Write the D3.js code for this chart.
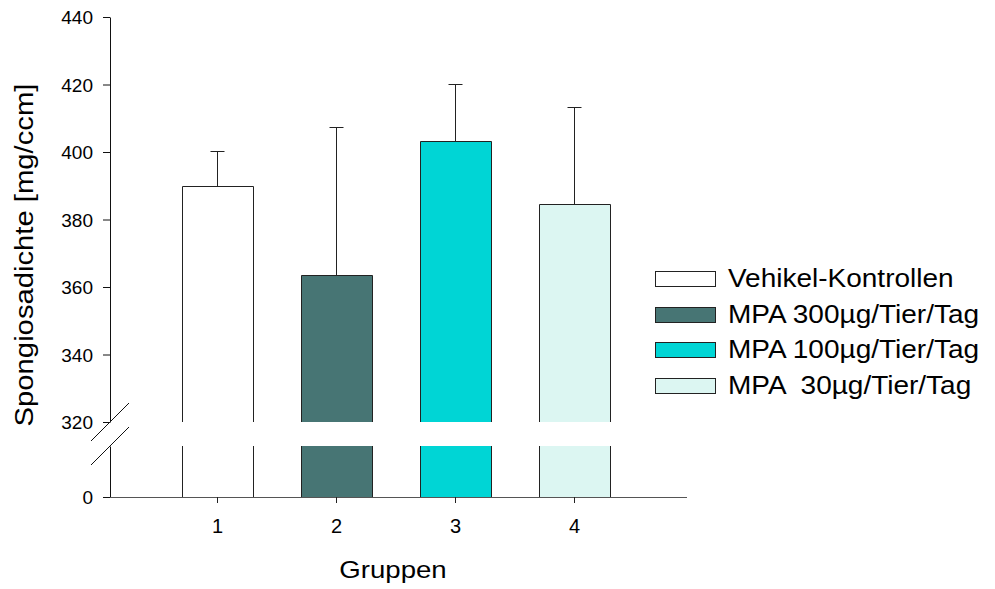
<!DOCTYPE html>
<html>
<head>
<meta charset="utf-8">
<script src="https://cdn.jsdelivr.net/npm/d3@7"></script>
<style>
  body { margin: 0; background: #fff; }
  text { font-family: Arial, "Liberation Sans", sans-serif; fill: #000; white-space: pre; }
</style>
</head>
<body>
<div id="chart"></div>
<script>
// values
const groups = [1, 2, 3, 4];
const groupNames = ["Vehikel-Kontrollen", "MPA 300µg/Tier/Tag", "MPA 100µg/Tier/Tag", "MPA  30µg/Tier/Tag"];
const means = [389.8, 363.6, 403.4, 384.6];
const errTop = [400.4, 407.3, 420.0, 413.4];
const colors = ["#ffffff", "#477574", "#00d5d5", "#dcf6f2"];
const upperTicks = [320, 340, 360, 380, 400, 420, 440];
const lowerTicks = [0];

var width = 995, height = 589;
var plotLeft = 110, plotRight = 687;
var barW = 71;

var svg = d3.select("#chart").append("svg")
    .attr("width", width)
    .attr("height", height);

// broken y axis: upper part 320..440, lower part from 0
var yUp = d3.scaleLinear().domain([320, 440]).range([422, 17]);
var yLow = d3.scaleLinear().domain([0, 300]).range([497, 446]).clamp(true);
var x = d3.scaleLinear().domain([1, 4]).range([217, 574]);

var data = groups.map((g, i) => ({ g: g, mean: means[i], top: errTop[i], color: colors[i], name: groupNames[i] }));

function px(v) { return Math.round(v) + 0.5; }

// bars, upper segment
var bars = svg.append("g");
data.forEach(function (d) {
    var x0 = px(x(d.g) - barW / 2), x1 = px(x(d.g) + barW / 2);
    var yt = px(yUp(d.mean)), yb = yUp(320);
    var lb = yLow(0), lt = yLow(300);
    bars.append("rect").attr("x", x0).attr("y", yt).attr("width", x1 - x0).attr("height", yb - yt)
        .attr("fill", d.color);
    bars.append("rect").attr("x", x0).attr("y", lt).attr("width", x1 - x0).attr("height", lb - lt)
        .attr("fill", d.color);
    bars.append("path")
        .attr("d", `M${x0},${yb}V${yt}H${x1}V${yb}M${x0},${lt}V${lb}M${x1},${lt}V${lb}`)
        .attr("fill", "none").attr("stroke", "#222").attr("stroke-width", 1);
    // error bar
    var xc = px(x(d.g));
    var ye = px(yUp(d.top));
    bars.append("path")
        .attr("d", `M${xc},${yt}V${ye}M${xc - 7},${ye}H${xc + 7}`)
        .attr("fill", "none").attr("stroke", "#222").attr("stroke-width", 1);
});

// y axis upper
var axUp = svg.append("g").attr("transform", `translate(${plotLeft},0)`)
    .call(d3.axisLeft(yUp).tickValues(upperTicks).tickSize(7).tickSizeOuter(0).tickPadding(10));
var axLow = svg.append("g").attr("transform", `translate(${plotLeft},0)`)
    .call(d3.axisLeft(yLow).tickValues(lowerTicks).tickSize(7).tickSizeOuter(0).tickPadding(10));
[axUp, axLow].forEach(function (a) {
    a.selectAll("text").attr("font-size", 19).attr("dy", "0.36em")
        .style("font-family", "Arial, 'Liberation Sans', sans-serif").attr("fill", "#000");
    a.selectAll("line, path").attr("stroke", "#111");
});

// x axis
svg.append("line")
    .attr("x1", plotLeft).attr("x2", plotRight)
    .attr("y1", px(yLow(0))).attr("y2", px(yLow(0)))
    .attr("stroke", "#555").attr("stroke-width", 1.2);
var axX = svg.append("g").attr("transform", `translate(0,${yLow(0)})`)
    .call(d3.axisBottom(x).tickValues(groups).tickFormat(d3.format("d")).tickSize(6).tickPadding(16));
axX.select(".domain").remove();
axX.selectAll("line").attr("stroke", "#222");
axX.selectAll("text").attr("font-size", 20).attr("dy", "0.71em")
    .style("font-family", "Arial, 'Liberation Sans', sans-serif").attr("fill", "#000");

// break marks
[yUp(320), yLow(300)].forEach(function (yy) {
    svg.append("line")
        .attr("x1", plotLeft - 19).attr("y1", yy + 19)
        .attr("x2", plotLeft + 19).attr("y2", yy - 19)
        .attr("stroke", "#111").attr("stroke-width", 1);
});

// axis titles
svg.append("text")
    .attr("transform", "translate(393,578) scale(1.15,1)")
    .attr("text-anchor", "middle")
    .attr("font-size", 24)
    .text("Gruppen");
svg.append("text")
    .attr("transform", "translate(33,255) rotate(-90) scale(1.17,1)")
    .attr("text-anchor", "middle")
    .attr("font-size", 25)
    .text("Spongiosadichte [mg/ccm]");

// legend
var legend = svg.append("g");
data.forEach(function (d, i) {
    var top = 271 + i * 35.5;
    legend.append("rect")
        .attr("x", 655.5).attr("y", px(top))
        .attr("width", 60).attr("height", 15)
        .attr("fill", d.color).attr("stroke", "#222").attr("stroke-width", 1);
    legend.append("text")
        .attr("transform", `translate(728,${top + 16}) scale(1.12,1)`)
        .attr("font-size", 25)
        .text(d.name);
});
</script>
</body>
</html>
